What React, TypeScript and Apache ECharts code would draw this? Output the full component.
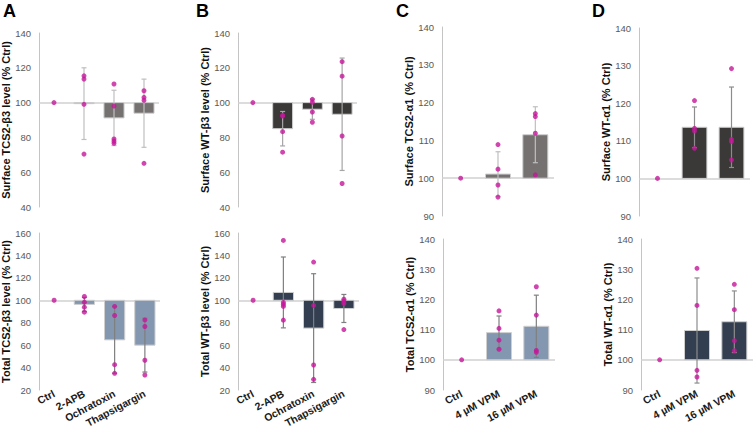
import React, { useEffect, useRef } from "react";
import * as echarts from "echarts";

// ---------- DATA ----------
const CATS_AB = ["Ctrl", "2-APB", "Ochratoxin", "Thapsigargin"];
const CATS_CD = ["Ctrl", "4 µM VPM", "16 µM VPM"];

// Panel A (top): Surface TCS2-β3
const A_TOP_MEAN = [100, 99.4, 91.2, 93.9];
const A_TOP_SD = [0, 20.6, 15.9, 19.6];
const A_TOP_DOTS = [[100], [115.4, 113.5, 99.0, 70.4], [110.7, 98.0, 79.1, 77.8, 76.6], [106.8, 103.0, 101.3, 65.1]];
// Panel A (bottom): Total TCS2-β3
const A_BOT_MEAN = [100, 96.3, 64.7, 60.0];
const A_BOT_SD = [0, 6.2, 29.8, 24.0];
const A_BOT_DOTS = [[100], [103.4, 98.3, 93.9, 89.4], [94.5, 86.4, 42.6, 34.9], [82.5, 76.6, 46.5, 33.4]];
// Panel B (top): Surface WT-β3
const B_TOP_MEAN = [100, 85.0, 96.2, 93.3];
const B_TOP_SD = [0, 9.9, 5.8, 32.3];
const B_TOP_DOTS = [[100], [92.7, 92.3, 83.3, 71.5], [101.9, 100.2, 94.6, 88.7], [123.5, 115.2, 80.8, 53.5]];
// Panel B (bottom): Total WT-β3
const B_BOT_MEAN = [100, 107.0, 75.2, 92.7];
const B_BOT_SD = [0, 31.6, 48.5, 12.5];
const B_BOT_DOTS = [[100], [153.4, 98.0, 96.3, 94.5, 82.3], [134.1, 95.4, 42.3, 29.5], [101.0, 99.2, 97.1, 73.9]];
// Panel C (top): Surface TCS2-α1
const C_TOP_MEAN = [100, 101.1, 111.5];
const C_TOP_SD = [0, 5.9, 7.4];
const C_TOP_DOTS = [[100], [108.9, 102.4, 98.2, 95.0], [117.1, 116.3, 111.9, 100.9]];
// Panel C (bottom): Total TCS2-α1
const C_BOT_MEAN = [100, 109.0, 111.1];
const C_BOT_SD = [0, 5.5, 10.3];
const C_BOT_DOTS = [[100], [116.2, 110.4, 106.5, 103.5], [124.2, 114.8, 103.1, 102.5]];
// Panel D (top): Surface WT-α1
const D_TOP_MEAN = [100, 113.6, 113.6];
const D_TOP_SD = [0, 5.4, 10.7];
const D_TOP_DOTS = [[100], [120.7, 113.3, 112.6, 108.0], [129.2, 110.4, 109.8, 104.9]];
// Panel D (bottom): Total WT-α1
const D_BOT_MEAN = [100, 109.7, 112.6];
const D_BOT_SD = [0, 17.4, 10.2];
const D_BOT_DOTS = [[100], [130.3, 118.0, 96.5, 94.3], [125.0, 116.6, 106.3, 103.0]];

const Y_NAMES = [
  "Surface TCS2-β3 level (% Ctrl)",
  "Total TCS2-β3 level (% Ctrl)",
  "Surface WT-β3 level (% Ctrl)",
  "Total WT-β3 level (% Ctrl)",
  "Surface TCS2-α1 (% Ctrl)",
  "Total TCS2-α1 (% Ctrl)",
  "Surface WT-α1 (% Ctrl)",
  "Total WT-α1 (% Ctrl)",
];
const PANEL_LETTERS = ["A", "B", "C", "D"];

// ---------- LAYOUT / STYLE ----------
const FONT = "Liberation Sans, Arial, sans-serif";
const DOT = "#c4169a";

const PANELS = [
  { cats: CATS_AB, mean: A_TOP_MEAN, sd: A_TOP_SD, dots: A_TOP_DOTS, name: Y_NAMES[0], min: 40, max: 140, interval: 20,
    grid: { left: 39, top: 33, width: 120, height: 174 }, bar: "#767171", err: "#bfbfbf", bottom: false },
  { cats: CATS_AB, mean: A_BOT_MEAN, sd: A_BOT_SD, dots: A_BOT_DOTS, name: Y_NAMES[1], min: 20, max: 160, interval: 20,
    grid: { left: 39, top: 233, width: 121, height: 157 }, bar: "#8497b0", err: "#7f7f7f", bottom: true },
  { cats: CATS_AB, mean: B_TOP_MEAN, sd: B_TOP_SD, dots: B_TOP_DOTS, name: Y_NAMES[2], min: 40, max: 140, interval: 20,
    grid: { left: 238, top: 33, width: 119, height: 174 }, bar: "#3b3838", err: "#a6a6a6", bottom: false },
  { cats: CATS_AB, mean: B_BOT_MEAN, sd: B_BOT_SD, dots: B_BOT_DOTS, name: Y_NAMES[3], min: 20, max: 160, interval: 20,
    grid: { left: 238, top: 233, width: 121, height: 157 }, bar: "#333f50", err: "#7f7f7f", bottom: true },
  { cats: CATS_CD, mean: C_TOP_MEAN, sd: C_TOP_SD, dots: C_TOP_DOTS, name: Y_NAMES[4], min: 90, max: 140, interval: 10,
    grid: { left: 442, top: 27, width: 112, height: 189 }, bar: "#767171", err: "#bfbfbf", bottom: false },
  { cats: CATS_CD, mean: C_BOT_MEAN, sd: C_BOT_SD, dots: C_BOT_DOTS, name: Y_NAMES[5], min: 90, max: 140, interval: 10,
    grid: { left: 443, top: 239, width: 112, height: 151 }, bar: "#8497b0", err: "#7f7f7f", bottom: true },
  { cats: CATS_CD, mean: D_TOP_MEAN, sd: D_TOP_SD, dots: D_TOP_DOTS, name: Y_NAMES[6], min: 90, max: 140, interval: 10,
    grid: { left: 639, top: 28, width: 111, height: 188 }, bar: "#3b3838", err: "#8c8c8c", bottom: false },
  { cats: CATS_CD, mean: D_BOT_MEAN, sd: D_BOT_SD, dots: D_BOT_DOTS, name: Y_NAMES[7], min: 90, max: 140, interval: 10,
    grid: { left: 641, top: 239, width: 112, height: 151 }, bar: "#333f50", err: "#8c8c8c", bottom: true },
];

const LETTER_X = [3, 196, 396, 592];

function buildOption() {
  const grids: any[] = [];
  const xAxes: any[] = [];
  const yAxes: any[] = [];
  const series: any[] = [];

  PANELS.forEach((p, k) => {
    grids.push({ ...p.grid, containLabel: false, outerBoundsMode: "none" });
    xAxes.push({
      type: "category",
      gridIndex: k,
      data: p.cats,
      boundaryGap: true,
      axisLine: { show: false },
      axisTick: { show: false },
      splitLine: { show: false },
      axisLabel: {
        show: p.bottom,
        interval: 0,
        rotate: 28,
        margin: 3,
        fontFamily: FONT,
        fontSize: 10.5,
        fontWeight: "bold",
        color: "#1a1a1a",
      },
    });
    yAxes.push({
      type: "value",
      gridIndex: k,
      min: p.min,
      max: p.max,
      interval: p.interval,
      name: p.name,
      nameLocation: "middle",
      nameGap: 25,
      nameTextStyle: { fontFamily: FONT, fontSize: 11, fontWeight: "bold", color: "#111" },
      axisLine: { show: true, lineStyle: { color: "#c4c4c4", width: 1 } },
      axisTick: { show: false },
      splitLine: { show: false },
      axisLabel: { fontFamily: FONT, fontSize: 9.5, color: "#595959", margin: 8 },
    });

    const barData = p.mean.map((m, i) => [i, m, p.sd[i]]);
    series.push({
      type: "custom",
      xAxisIndex: k,
      yAxisIndex: k,
      data: barData,
      encode: { x: 0, y: 1 },
      z: 2,
      renderItem: (params: any, api: any) => {
        const i = api.value(0);
        const m = api.value(1);
        const s = api.value(2);
        const base = api.coord([i, 100]);
        const top = api.coord([i, m]);
        const band = api.size([1, 0])[0];
        const bw = band * 0.67;
        const children: any[] = [];
        if (Math.abs(top[1] - base[1]) > 0.1) {
          children.push({
            type: "rect",
            shape: {
              x: base[0] - bw / 2,
              y: Math.min(base[1], top[1]),
              width: bw,
              height: Math.abs(top[1] - base[1]),
            },
            style: { fill: p.bar, stroke: "#cfcfcf", lineWidth: 1 },
          });
        }
        if (s > 0) {
          const lo = api.coord([i, m - s]);
          const hi = api.coord([i, m + s]);
          const cw = 2.5;
          const es = { stroke: p.err, lineWidth: 1.2 };
          children.push({ type: "line", shape: { x1: lo[0], y1: lo[1], x2: hi[0], y2: hi[1] }, style: es });
          children.push({ type: "line", shape: { x1: lo[0] - cw, y1: lo[1], x2: lo[0] + cw, y2: lo[1] }, style: es });
          children.push({ type: "line", shape: { x1: hi[0] - cw, y1: hi[1], x2: hi[0] + cw, y2: hi[1] }, style: es });
        }
        return { type: "group", children };
      },
    });

    const dotData: number[][] = [];
    p.dots.forEach((arr, i) => arr.forEach((v) => dotData.push([i, v])));
    series.push({
      type: "scatter",
      xAxisIndex: k,
      yAxisIndex: k,
      data: dotData,
      symbol: "circle",
      symbolSize: 5,
      itemStyle: { color: DOT },
      z: 4,
      markLine: {
        silent: true,
        symbol: ["none", "none"],
        label: { show: false },
        lineStyle: { color: "#d0d0d0", width: 1.6, type: "solid" },
        data: [{ yAxis: 100 }],
        z: 1,
      },
    });
  });

  const graphics = PANEL_LETTERS.map((l, i) => ({
    type: "text",
    x: LETTER_X[i],
    y: 2,
    style: { text: l, font: `bold 18px ${FONT}`, fill: "#000", verticalAlign: "top" },
  }));

  return {
    animation: false,
    backgroundColor: "#fff",
    grid: grids,
    xAxis: xAxes,
    yAxis: yAxes,
    series,
    graphic: graphics,
  };
}

export default function App() {
  const ref = useRef<HTMLDivElement>(null);
  useEffect(() => {
    if (!ref.current) return;
    const chart = echarts.init(ref.current, null, { renderer: "svg" });
    chart.setOption(buildOption() as any);
    return () => chart.dispose();
  }, []);
  return (
    <div
      ref={ref}
      style={{ position: "fixed", left: 0, top: 0, width: 754, height: 432 }}
    />
  );
}
